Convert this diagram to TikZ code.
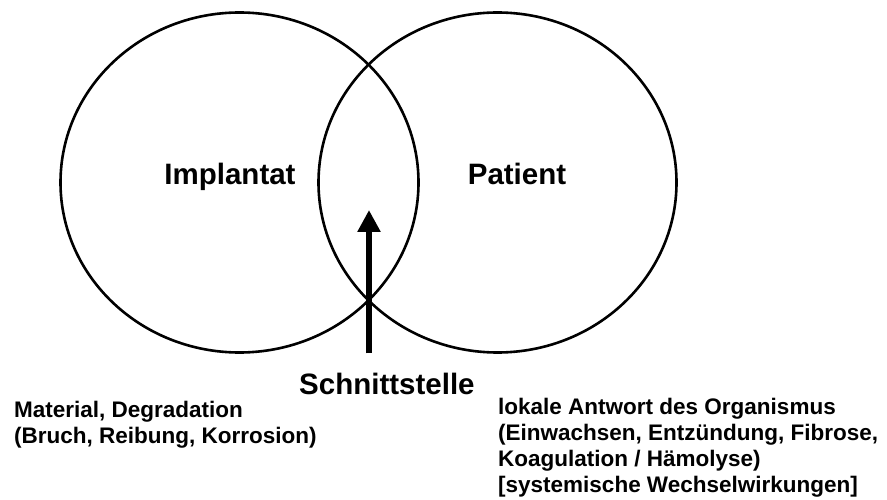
\documentclass[tikz,border=0pt]{standalone}
\usepackage{fontspec}
\setmainfont{Liberation Sans}
\usetikzlibrary{shapes.geometric,arrows.meta}

\tikzset{
  kreis/.style={draw,ellipse,line width=2.6pt,minimum width=358pt,minimum height=340pt,inner sep=0pt},
  gross/.style={font=\bfseries\fontsize{29.5}{31}\selectfont,inner sep=0pt},
  klein/.style={font=\bfseries\fontsize{22.5}{26}\selectfont,inner sep=0pt,align=left},
  pfeil/.style={line width=6pt,-{Triangle[width=22pt,length=22pt]}}
}

\begin{document}
\begin{tikzpicture}[x=1pt,y=-1pt]
\useasboundingbox (0,0) rectangle (887,500);
% die beiden Bereiche
\node[kreis] (implantat) at (239.5,182.5) {};
\node[kreis] (patient) at (497.5,182.5) {};
\node[gross,anchor=base] (lblimpl) at (230,185) {Implantat};
\node[gross,anchor=base] (lblpat) at (517,185) {Patient};
% Schnittstelle
\node[gross,anchor=base west] (schnitt) at (299,394) {Schnittstelle};
\coordinate (spitze) at (369,210);
\draw[pfeil] (spitze |- schnitt.north) ++(0,-19) -- (spitze);
% Erlaeuterungen
\node[klein,anchor=base west] (material) at (14,443) {Material, Degradation\\(Bruch, Reibung, Korrosion)};
\node[klein,anchor=base west] (antwort) at (498,492) {lokale Antwort des Organismus\\(Einwachsen, Entzündung, Fibrose,\\Koagulation / Hämolyse)\\{[systemische Wechselwirkungen]}};
\end{tikzpicture}
\end{document}
